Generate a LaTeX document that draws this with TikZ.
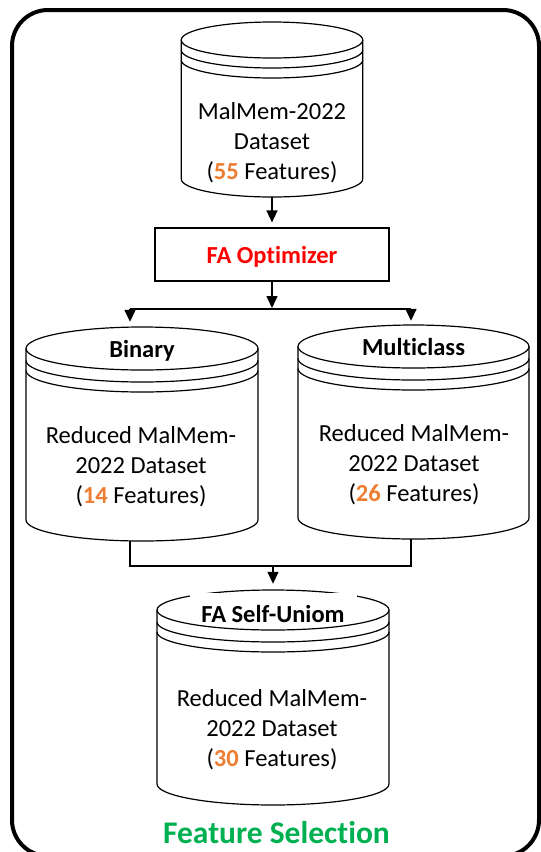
\documentclass[tikz,border=0pt]{standalone}
\usepackage{fontspec}
\setmainfont{Carlito}[Ligatures={NoCommon}]
\usetikzlibrary{arrows.meta}
\definecolor{forange}{HTML}{ED7D31}
\definecolor{fgreen}{HTML}{00B050}
\definecolor{fred}{HTML}{FF0000}
\tikzset{
  cylline/.style={line width=1.2pt},
  conn/.style={line width=1.5pt,-{Triangle[length=12pt,width=11pt]}},
  plainconn/.style={line width=1.5pt},
  bodytext/.style={align=center,font=\fontsize{24.5}{30}\selectfont},
  boldlabel/.style={font=\fontsize{24.5}{30}\selectfont\bfseries},
  holder/.style={inner sep=0pt,draw=none}
}
% cx, cyT, cyB, rx, ryT, off1, off2, ryB
\newcommand{\dbcyl}[8]{%
  \draw[cylline] (#1,#2) ellipse [x radius=#4pt, y radius=#5pt];
  \draw[cylline] ({#1+#4},{#2+#6}) arc [start angle=0, end angle=-180, x radius=#4pt, y radius=#5pt];
  \draw[cylline] ({#1+#4},{#2+#7}) arc [start angle=0, end angle=-180, x radius=#4pt, y radius=#5pt];
  \draw[cylline] ({#1-#4},#2) -- ({#1-#4},#3) arc [start angle=180, end angle=360, x radius=#4pt, y radius=#8pt] -- ({#1+#4},#2);
}
\begin{document}
\begin{tikzpicture}[x=1pt,y=-1pt]
\useasboundingbox (0,0) rectangle (541,852);
% outer frame (bottom edge lies just below the picture's edge)
\begin{scope}
\clip (0,0) rectangle (541,852);
\draw[line width=4pt, rounded corners=36pt] (12,10) rectangle (539,856);
\end{scope}

% cylinders
\dbcyl{272}{40}{179}{90.75}{18}{10}{20}{18}
\node[holder, minimum width=181.5pt, minimum height=175pt] (src) at (272,109.5) {};
\node[bodytext] (srct) at (272,143) {MalMem-2022\\Dataset\\(\textcolor{forange}{\bfseries 55} Features)};

\node[draw, line width=1.2pt, minimum width=234pt, minimum height=53pt, inner sep=0pt] (opt) at (272,254.5) {};
\node[boldlabel, text=fred, anchor=base] (optt) at (272,263) {FA Optimizer};

\dbcyl{142}{348.5}{520}{116}{21.5}{12}{22}{21}
\node[holder, minimum width=232pt, minimum height=214pt] (bin) at (142,434) {};
\node[boldlabel, anchor=base] (bint) at (142,357) {Binary};
\node[bodytext] (bintx) at (141,467) {Reduced MalMem-\\2022 Dataset\\(\textcolor{forange}{\bfseries 14} Features)};

\dbcyl{413.5}{346.5}{518}{115.5}{21.5}{12}{22}{21}
\node[holder, minimum width=231pt, minimum height=214pt] (mul) at (413.5,432) {};
\node[boldlabel, anchor=base] (mult) at (413.5,355) {Multiclass};
\node[bodytext] (multx) at (414,465) {Reduced MalMem-\\2022 Dataset\\(\textcolor{forange}{\bfseries 26} Features)};

\dbcyl{273}{610}{784}{116}{20}{12}{22}{21}
\node[holder, minimum width=232pt, minimum height=215pt] (bot) at (273,697.5) {};
\node[boldlabel, fill=white, inner sep=0pt, minimum width=167pt, text height=29pt, text depth=1pt, anchor=base] (bott) at (273,622) {FA Self-Uniom};
\node[bodytext] (bottx) at (272,730) {Reduced MalMem-\\2022 Dataset\\(\textcolor{forange}{\bfseries 30} Features)};

\node[font=\fontsize{31.5}{36}\selectfont\bfseries, text=fgreen, anchor=base] (title) at (276.5,843.5) {Feature Selection};

% connectors
\coordinate (split) at (272,309);
\coordinate (bl) at (130,309);
\coordinate (mr) at (411,309);
\coordinate (join) at (273,566);
\draw[conn, shorten >=5pt] (src.south) -- (opt.north);
\draw[conn, shorten >=1pt] (opt.south) -- (split);
\draw[plainconn] (bl) -- (mr);
\draw[conn, shorten >=5pt] (bl) -- (bl |- bin.north);
\draw[conn, shorten >=4pt] (mr) -- (mr |- mul.north);
\draw[plainconn] (bl |- bin.south) |- (join) -| (mr |- mul.south);
\draw[conn, shorten >=6pt] (join) -- (bot.north);
\end{tikzpicture}
\end{document}
